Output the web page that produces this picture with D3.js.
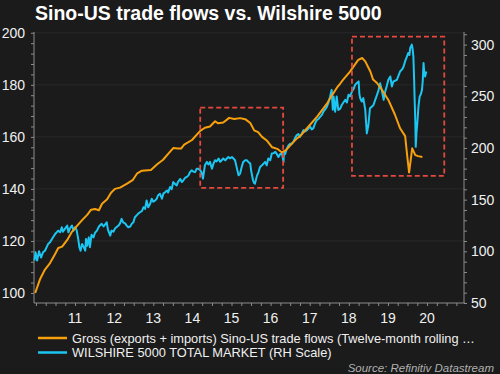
<html>
<head>
<script src="https://d3js.org/d3.v7.min.js"></script>
<style>
  body { margin: 0; background: #1b1b1b; }
  text { font-family: 'Liberation Sans', Arial, sans-serif; }
  .axis path, .axis line { stroke: #8c8c8c; }
  .axis text { fill: #f0f0f0; font-size: 14px; }
  .grid { stroke: #ffffff; stroke-opacity: 0.06; }
</style>
</head>
<body>
<svg id="chart" width="500" height="374"></svg>
<script>
// ---- data (decimal years) ----
const tradeT = [2010.48,2010.61,2010.73,2010.86,2010.99,2011.07,2011.17,2011.30,2011.42,2011.55,2011.68,2011.81,2011.91,
  2012.01,2012.11,2012.19,2012.32,2012.42,2012.52,2012.65,2012.83,2012.98,2013.09,2013.21,2013.44,2013.60,2013.75,2013.88,
  2014.01,2014.13,2014.21,2014.29,2014.49,2014.70,2014.82,2014.95,2015.08,2015.16,2015.29,2015.44,2015.57,2015.72,2015.85,
  2015.98,2016.08,2016.18,2016.28,2016.41,2016.54,2016.67,2016.79,2016.90,2017.05,2017.18,2017.25,2017.43,2017.69,2017.95,
  2018.07,2018.20,2018.28,2018.35,2018.53,2018.74,2018.84,2018.92,2019.05,2019.12,2019.22,2019.35,2019.51,2019.68,2019.81,
  2019.94,2019.99,2020.04,2020.09,2020.12,2020.20,2020.27,2020.38];
const tradeVals = [100,105.5,109,111.5,115,117.3,117.8,120.4,123.5,125.8,128,130,132,
  132.3,131.8,134.3,136,138.5,140,140.5,142,143.5,146,147,147.3,149.5,151.2,153.5,
  155.7,155.5,155.5,157,158.8,162.3,163.5,164,166,165.2,165.5,167.3,166.9,167.2,166.8,
  165.3,162.5,161.8,160,158.5,156,155.4,154,155,157.5,159.5,160.2,163.3,167.8,173,
  176,179,180.5,181.9,185.1,189.6,190.3,189,185.1,182,180.7,178,174.2,168.5,163.3,
  160.3,153,146.3,152,155.6,153,152.6,152.3];

const wilT = [2010.46,2010.49,2010.53,2010.58,2010.63,2010.68,2010.73,2010.81,2010.86,2010.91,2010.99,2011.07,2011.12,2011.16,
  2011.19,2011.24,2011.30,2011.33,2011.37,2011.42,2011.46,2011.50,2011.54,2011.58,2011.61,2011.64,2011.68,2011.71,2011.76,
  2011.78,2011.81,2011.85,2011.88,2011.92,2011.97,2012.01,2012.06,2012.11,2012.18,2012.23,2012.27,2012.31,2012.34,2012.40,
  2012.43,2012.48,2012.52,2012.61,2012.65,2012.69,2012.73,2012.78,2012.82,2012.86,2012.91,2012.95,2012.99,2013.03,2013.08,
  2013.11,2013.16,2013.21,2013.25,2013.29,2013.33,2013.37,2013.42,2013.46,2013.50,2013.55,2013.59,2013.62,2013.67,2013.72,
  2013.76,2013.80,2013.85,2013.88,2013.93,2013.97,2014.01,2014.06,2014.10,2014.13,2014.19,2014.23,2014.27,2014.31,2014.36,
  2014.40,2014.44,2014.48,2014.53,2014.57,2014.61,2014.65,2014.70,2014.74,2014.77,2014.80,2014.82,2014.87,2014.91,2014.95,
  2015.00,2015.04,2015.08,2015.12,2015.17,2015.21,2015.25,2015.29,2015.34,2015.38,2015.42,2015.46,2015.51,2015.55,2015.59,
  2015.64,2015.68,2015.72,2015.76,2015.80,2015.85,2015.89,2015.93,2015.98,2016.00,2016.05,2016.08,2016.10,2016.15,2016.19,
  2016.23,2016.28,2016.32,2016.36,2016.40,2016.44,2016.49,2016.53,2016.58,2016.62,2016.66,2016.70,2016.74,2016.79,2016.83,
  2016.84,2016.87,2016.91,2016.96,2017.00,2017.04,2017.08,2017.13,2017.17,2017.21,2017.25,2017.30,2017.34,2017.38,2017.43,
  2017.47,2017.51,2017.55,2017.59,2017.64,2017.68,2017.72,2017.77,2017.81,2017.85,2017.89,2017.94,2017.98,2018.02,2018.06,
  2018.09,2018.11,2018.15,2018.19,2018.23,2018.28,2018.32,2018.36,2018.41,2018.45,2018.49,2018.53,2018.58,2018.62,2018.66,
  2018.70,2018.75,2018.77,2018.79,2018.83,2018.87,2018.92,2018.94,2018.96,2019.00,2019.04,2019.09,2019.13,2019.17,2019.22,
  2019.26,2019.30,2019.34,2019.39,2019.43,2019.47,2019.51,2019.56,2019.60,2019.64,2019.68,2019.73,2019.77,2019.81,2019.86,
  2019.90,2019.94,2019.97,2019.99,2020.02,2020.05,2020.07,2020.11,2020.13,2020.15,2020.17,2020.18,2020.20,2020.21,2020.23,
  2020.25,2020.28,2020.31,2020.34,2020.37,2020.39,2020.41,2020.43,2020.45,2020.48];
const wilVals = [91,99,91,100,94,99,100.6,107,108.7,112,116.8,120,118.4,123.3,
  119,121.7,124.9,118.4,122.3,125,120,123.3,120.5,112,104,100.6,107,105,100.6,
  112,105.4,113.5,104,116,113.5,118,120,124,126.6,124,126,128,121,115.2,
  120,119,122,124.9,127.1,131.4,128,127,124.9,123.3,124,126.6,128,133,135,
  136.3,137.8,139,142.7,141,149.2,142.7,146,150.9,148,149.2,151,154,155.7,150.9,
  156,157,158.9,157,162.2,160,167,165,163.8,167,170,167,168.7,171,172,
  173.5,176.7,178.4,177,176.7,180,180,178.4,176,170.3,178,183.3,186.5,184,186.5,
  180,185,188.1,187,189.8,186.5,188.1,189.8,188,189.8,191.3,190,191.3,189.8,188.1,
  180,173.5,175.2,181.6,186.5,188.1,188.1,186.5,184.9,178.4,168.7,166,165.5,173,176.7,
  181.6,183.3,184.9,186.5,183.3,189.8,188.1,194.6,195,196.2,194,191.3,194,194.6,186.5,
  196.2,194,199,202.7,204,204,205.9,210,212.5,213.5,210.8,214,217.3,216,217.3,
  219,220.6,218,219,224,227,228,230.3,232,235.1,237,240,244,249.7,256.2,
  237,249.7,235.1,249.7,236.8,238,241.6,244,246.5,244,251.4,250,254.6,257,261.1,
  262.7,264.4,252,248.2,244.9,248.2,236.8,225,214.1,222.2,238.4,240,241.6,246,251.4,
  256,262.7,256.2,246.5,254.6,260,266,269.2,259.5,264.4,265,266,270,274,276,
  278.9,284,287,289,291.9,290,296.8,300,296,288.6,265,249.7,225,201.1,215,
  223.8,240,249.7,252,256.2,265,282.2,272,269.2,274];

const xLabelYears = [2011,2012,2013,2014,2015,2016,2017,2018,2019,2020];
const leftLabels = [100,120,140,160,180,200];
const rightLabels = [50,100,150,200,250,300];
// highlight boxes: [t0, t1, left-scale low, left-scale high]
const boxes = [[2014.70, 2016.82, 140.4, 171.2], [2018.58, 2020.94, 145, 198.5]];
const legendItems = [
  {label: "Gross (exports + imports) Sino-US trade flows (Twelve-month rolling \u2026", color: "#f7a00e"},
  {label: "WILSHIRE 5000 TOTAL MARKET (RH Scale)", color: "#1cc6f2"}
];

const svg = d3.select("#chart");
svg.append("rect").attr("width", 500).attr("height", 374).attr("fill", "#1b1b1b");

const plot = {left: 34, right: 465, top: 32, bottom: 303};

const x = d3.scaleLinear().domain([2010.45, 2021.47]).range([plot.left, plot.right]);
const yL = d3.scaleLinear().domain([96.15, 200.3]).range([plot.bottom, plot.top]);
const yR = d3.scaleLinear().domain([50, 312.2]).range([plot.bottom, plot.top]);

// gridlines
svg.append("g").selectAll("line").data(leftLabels.slice(1)).join("line")
  .attr("class", "grid")
  .attr("x1", plot.left).attr("x2", plot.right)
  .attr("y1", d => yL(d)).attr("y2", d => yL(d));

// left axis
const leftAxis = svg.append("g").attr("class", "axis")
  .attr("transform", `translate(${plot.left},0)`)
  .call(d3.axisLeft(yL).tickValues(d3.range(100, 201, 4)).tickSize(3).tickPadding(6)
    .tickFormat(d => leftLabels.includes(d) ? d : ""));
leftAxis.select(".domain").attr("d", `M0,${plot.top}V${plot.bottom}`);

// right axis
const rightAxis = svg.append("g").attr("class", "axis")
  .attr("transform", `translate(${plot.right - 1},0)`)
  .call(d3.axisRight(yR).tickValues(d3.range(50, 311, 10)).tickSize(3).tickPadding(4)
    .tickFormat(d => rightLabels.includes(d) ? d : ""));
rightAxis.select(".domain").attr("d", `M0,${plot.top}V${plot.bottom}`);

// bottom axis: quarterly ticks, labels mid-year
const bottomAxis = svg.append("g").attr("class", "axis")
  .attr("transform", `translate(0,${plot.bottom})`)
  .call(d3.axisBottom(x).tickValues(d3.range(2010.5, 2021.5, 0.25)).tickSize(3).tickFormat(""));
bottomAxis.select(".domain").attr("d", `M${plot.left},0H${plot.right}`);
bottomAxis.selectAll(".yr").data(xLabelYears).join("text")
  .attr("class", "yr")
  .attr("x", d => x(d + 0.5)).attr("y", 20)
  .attr("text-anchor", "middle")
  .text(d => String(d).slice(2));

// lines
const tradeData = tradeT.map((t, i) => ({t, v: tradeVals[i]}));
const wilData = wilT.map((t, i) => ({t, v: wilVals[i]}));

svg.append("path").datum(wilData)
  .attr("fill", "none").attr("stroke", legendItems[1].color).attr("stroke-width", 2)
  .attr("stroke-linejoin", "round")
  .attr("d", d3.line().x(d => x(d.t)).y(d => yR(d.v)));

svg.append("path").datum(tradeData)
  .attr("fill", "none").attr("stroke", legendItems[0].color).attr("stroke-width", 2)
  .attr("stroke-linejoin", "round")
  .attr("d", d3.line().x(d => x(d.t)).y(d => yL(d.v)));

// highlight boxes
svg.append("g").selectAll("rect").data(boxes).join("rect")
  .attr("x", d => x(d[0])).attr("y", d => yL(d[3]))
  .attr("width", d => x(d[1]) - x(d[0])).attr("height", d => yL(d[2]) - yL(d[3]))
  .attr("fill", "none").attr("stroke", "#e4493e").attr("stroke-width", 1.8)
  .attr("stroke-dasharray", "5,3");

// title
svg.append("text").attr("x", 35).attr("y", 20)
  .attr("fill", "#ffffff").attr("font-weight", "bold").attr("font-size", "19.5px")
  .text("Sino-US trade flows vs. Wilshire 5000");

// legend
const legend = svg.append("g").selectAll("g").data(legendItems).join("g")
  .attr("transform", (d, i) => `translate(38,${338 + i * 14.5})`);
legend.append("line").attr("x1", 0).attr("x2", 29)
  .attr("stroke", d => d.color).attr("stroke-width", 2.5);
legend.append("text").attr("x", 34).attr("y", 4.6)
  .attr("fill", "#f0f0f0").attr("font-size", "12.8px")
  .text(d => d.label);

// source
svg.append("text").attr("x", 494).attr("y", 372)
  .attr("text-anchor", "end").attr("fill", "#b0b0b0")
  .attr("font-size", "11.5px").attr("font-style", "italic")
  .text("Source: Refinitiv Datastream");
</script>
</body>
</html>
